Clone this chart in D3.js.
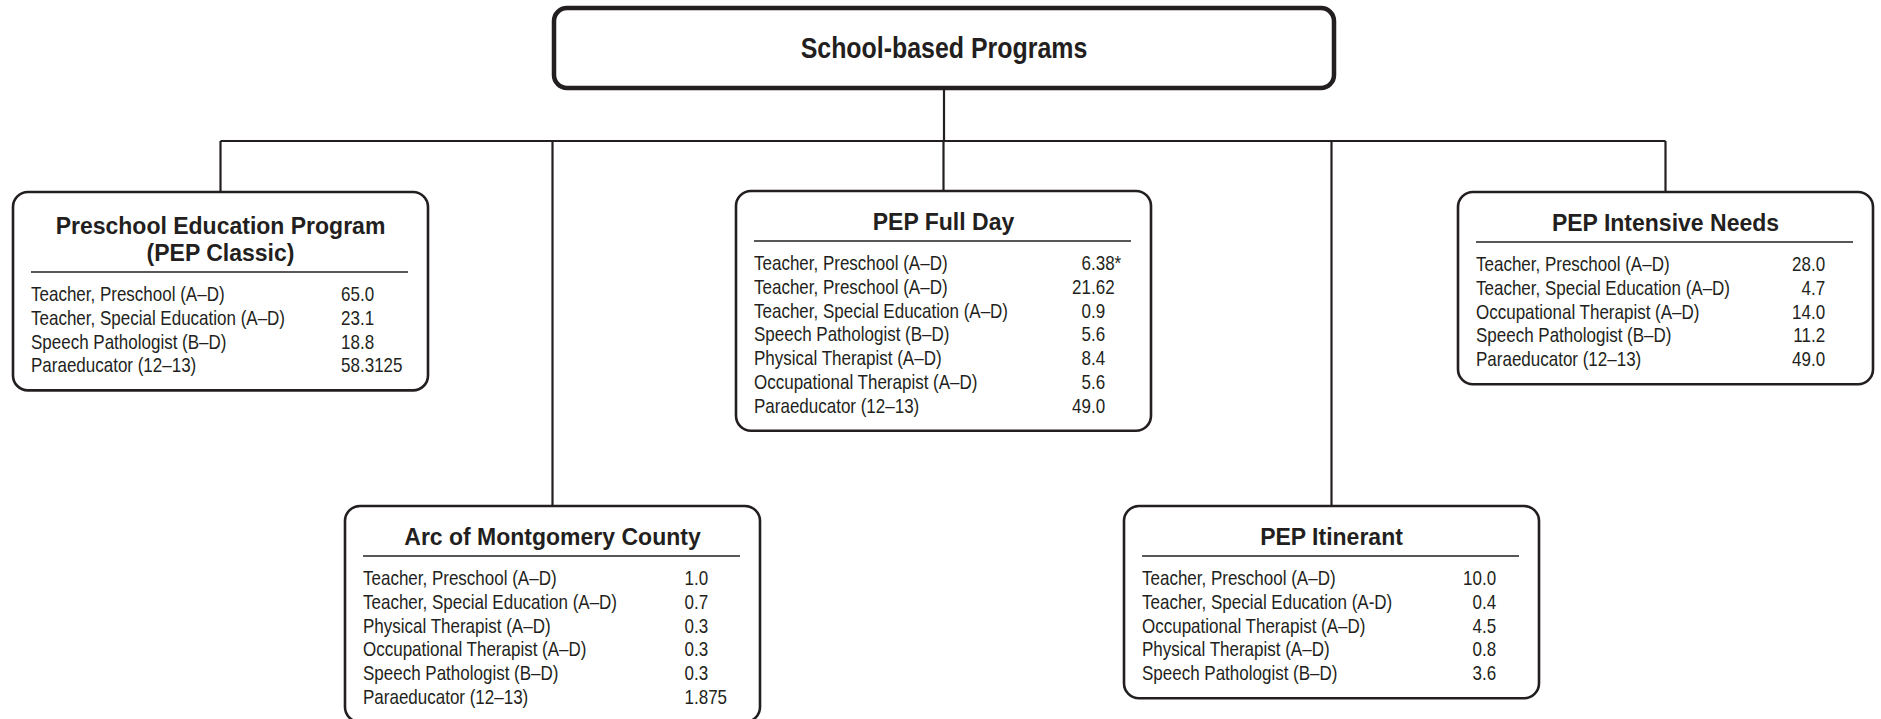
<!DOCTYPE html>
<html>
<head>
<meta charset="utf-8">
<script src="https://cdn.jsdelivr.net/npm/d3@7"></script>
<style>
  body { margin: 0; background: #fff; }
  text { fill: #231f20; }
  .title { font-family: "Liberation Sans", Arial, sans-serif; font-weight: bold; }
  .row { font-family: "Liberation Sans", Arial, sans-serif; font-size: 20px; }
</style>
</head>
<body>
<svg id="chart" width="1881" height="719"></svg>
<script>
const width = 1881;
const height = 719;
const ink = "#231f20";

// Chart data
const rootTitle = "School-based Programs";

const classicTitle = ["Preschool Education Program", "(PEP Classic)"];
const classicRoles = ["Teacher, Preschool (A–D)", "Teacher, Special Education (A–D)", "Speech Pathologist (B–D)", "Paraeducator (12–13)"];
const classicFte = ["65.0", "23.1", "18.8", "58.3125"];

const arcTitle = ["Arc of Montgomery County"];
const arcRoles = ["Teacher, Preschool (A–D)", "Teacher, Special Education (A–D)", "Physical Therapist (A–D)", "Occupational Therapist (A–D)", "Speech Pathologist (B–D)", "Paraeducator (12–13)"];
const arcFte = ["1.0", "0.7", "0.3", "0.3", "0.3", "1.875"];

const fullDayTitle = ["PEP Full Day"];
const fullDayRoles = ["Teacher, Preschool (A–D)", "Teacher, Preschool (A–D)", "Teacher, Special Education (A–D)", "Speech Pathologist (B–D)", "Physical Therapist (A–D)", "Occupational Therapist (A–D)", "Paraeducator (12–13)"];
const fullDayFte = ["6.38*", "21.62", "0.9", "5.6", "8.4", "5.6", "49.0"];

const itinerantTitle = ["PEP Itinerant"];
const itinerantRoles = ["Teacher, Preschool (A–D)", "Teacher, Special Education (A-D)", "Occupational Therapist (A–D)", "Physical Therapist (A–D)", "Speech Pathologist (B–D)"];
const itinerantFte = ["10.0", "0.4", "4.5", "0.8", "3.6"];

const intensiveTitle = ["PEP Intensive Needs"];
const intensiveRoles = ["Teacher, Preschool (A–D)", "Teacher, Special Education (A–D)", "Occupational Therapist (A–D)", "Speech Pathologist (B–D)", "Paraeducator (12–13)"];
const intensiveFte = ["28.0", "4.7", "14.0", "11.2", "49.0"];

// Layout of the boxes (left, top, decimal column offset)
const boxW = 415;
const programs = [
  { title: classicTitle, roles: classicRoles, fte: classicFte, x: 13, y: 192, dec: 347 },
  { title: arcTitle, roles: arcRoles, fte: arcFte, x: 345, y: 506, dec: 349 },
  { title: fullDayTitle, roles: fullDayRoles, fte: fullDayFte, x: 736, y: 191, dec: 355 },
  { title: itinerantTitle, roles: itinerantRoles, fte: itinerantFte, x: 1124, y: 506, dec: 358 },
  { title: intensiveTitle, roles: intensiveRoles, fte: intensiveFte, x: 1458, y: 192, dec: 353 }
];

const rowStep = 23.8;
const narrow = 0.85; // condensed body face, squeeze horizontally
programs.forEach(p => {
  p.sep = p.y + 50 + (p.title.length - 1) * 30;
  p.rowY = d3.scaleLinear().domain([0, 1]).range([p.sep + 22, p.sep + 22 + rowStep]);
  p.h = p.rowY(p.roles.length - 1) + 25 - p.y;
  p.cx = p.x + boxW / 2;
});

const root = { x: 554, y: 8, w: 780, h: 80 };
const busY = 141;

const svg = d3.select("#chart");

// Connectors
const connectors = svg.append("g")
  .attr("fill", "none")
  .attr("stroke", ink)
  .attr("stroke-width", 2.2);

connectors.append("line")
  .attr("x1", root.x + root.w / 2).attr("x2", root.x + root.w / 2)
  .attr("y1", root.y + root.h).attr("y2", busY);

connectors.append("line")
  .attr("x1", d3.min(programs, d => d.cx)).attr("x2", d3.max(programs, d => d.cx))
  .attr("y1", busY).attr("y2", busY);

connectors.selectAll("line.drop")
  .data(programs)
  .join("line")
  .attr("class", "drop")
  .attr("x1", d => d.cx).attr("x2", d => d.cx)
  .attr("y1", busY).attr("y2", d => d.y);

// Root box
svg.append("rect")
  .attr("x", root.x).attr("y", root.y)
  .attr("width", root.w).attr("height", root.h)
  .attr("rx", 13)
  .attr("fill", "#fff")
  .attr("stroke", ink)
  .attr("stroke-width", 4.5);

svg.append("text")
  .attr("class", "title")
  .attr("transform", `translate(${root.x + root.w / 2},${root.y + root.h / 2}) scale(0.86,1)`)
  .attr("dy", "0.35em")
  .attr("text-anchor", "middle")
  .attr("font-size", 29)
  .text(rootTitle);

// Program boxes
const box = svg.selectAll("g.program")
  .data(programs)
  .join("g")
  .attr("class", "program")
  .attr("transform", d => `translate(${d.x},0)`);

box.append("rect")
  .attr("y", d => d.y)
  .attr("width", boxW)
  .attr("height", d => d.h)
  .attr("rx", 15)
  .attr("fill", "#fff")
  .attr("stroke", ink)
  .attr("stroke-width", 2.6);

box.selectAll("text.title")
  .data(d => d.title.map((t, i) => ({ t, y: d.sep - 19 - (d.title.length - 1 - i) * 27 })))
  .join("text")
  .attr("class", "title")
  .attr("x", boxW / 2)
  .attr("y", d => d.y)
  .attr("dy", "0.35em")
  .attr("text-anchor", "middle")
  .attr("font-size", 23)
  .text(d => d.t);

box.append("line")
  .attr("x1", 18).attr("x2", boxW - 20)
  .attr("y1", d => d.sep).attr("y2", d => d.sep)
  .attr("stroke", ink)
  .attr("stroke-width", 1.3);

// Staff rows
const rows = box.selectAll("g.row")
  .data(d => d.roles.map((role, i) => ({ role, fte: d.fte[i], y: d.rowY(i), dec: d.dec })))
  .join("g")
  .attr("class", "row");

rows.append("text")
  .attr("transform", d => `translate(18,${d.y}) scale(${narrow},1)`)
  .attr("dy", "0.35em")
  .text(d => d.role);

// decimal-aligned numbers
rows.append("text")
  .attr("transform", d => `translate(${d.dec},${d.y}) scale(${narrow},1)`)
  .attr("dy", "0.35em")
  .attr("text-anchor", "end")
  .text(d => d.fte.split(".")[0]);

rows.append("text")
  .attr("transform", d => `translate(${d.dec},${d.y}) scale(${narrow},1)`)
  .attr("dy", "0.35em")
  .text(d => "." + d.fte.split(".")[1]);
</script>
</body>
</html>
